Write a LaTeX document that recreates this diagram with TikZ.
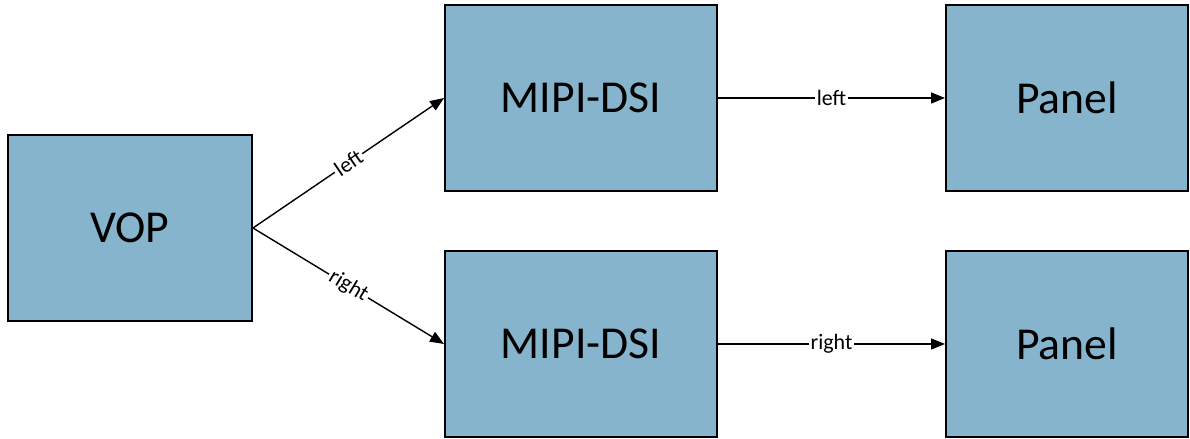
\documentclass[tikz,border=0pt]{standalone}
\usepackage{fontspec}
\setmainfont{Carlito}
\usetikzlibrary{arrows.meta}
\usetikzlibrary{positioning}
\definecolor{boxblue}{RGB}{134,180,204}
\tikzset{block/.style = {draw, line width=1.1pt, fill=boxblue,
                         minimum height=3.72cm, font=\fontsize{26}{29}\selectfont},
         link/.style = {-{Triangle[length=2.8mm,width=2.2mm]}, line width=0.8pt},
         tag/.style = {fill=white, inner sep=1pt, font=\fontsize{12.5}{14}\selectfont}}

\begin{document}
\begin{tikzpicture}
    \useasboundingbox (0, 0) rectangle (23.8, 8.78);
    \node [block, minimum width=4.88cm] (vop) at (2.6, 4.22) {VOP};
    \node [block, minimum width=5.44cm] (dsiL) at (11.62, 6.82) {MIPI-DSI};
    \node [block, minimum width=5.44cm] (dsiR) at (11.62, 1.9) {MIPI-DSI};
    \node [block, minimum width=4.84cm] (panelL) at (21.34, 6.82) {Panel};
    \node [block, minimum width=4.84cm] (panelR) at (21.34, 1.9) {Panel};
    \draw [link] (vop.east) -- node [tag, sloped] {left} (dsiL.west);
    \draw [link] (vop.east) -- node [tag, sloped] {right} (dsiR.west);
    \draw [link] (dsiL.east) -- node [tag] {left} (panelL.west);
    \draw [link] (dsiR.east) -- node [tag] {right} (panelR.west);
  \end{tikzpicture}
\end{document}
